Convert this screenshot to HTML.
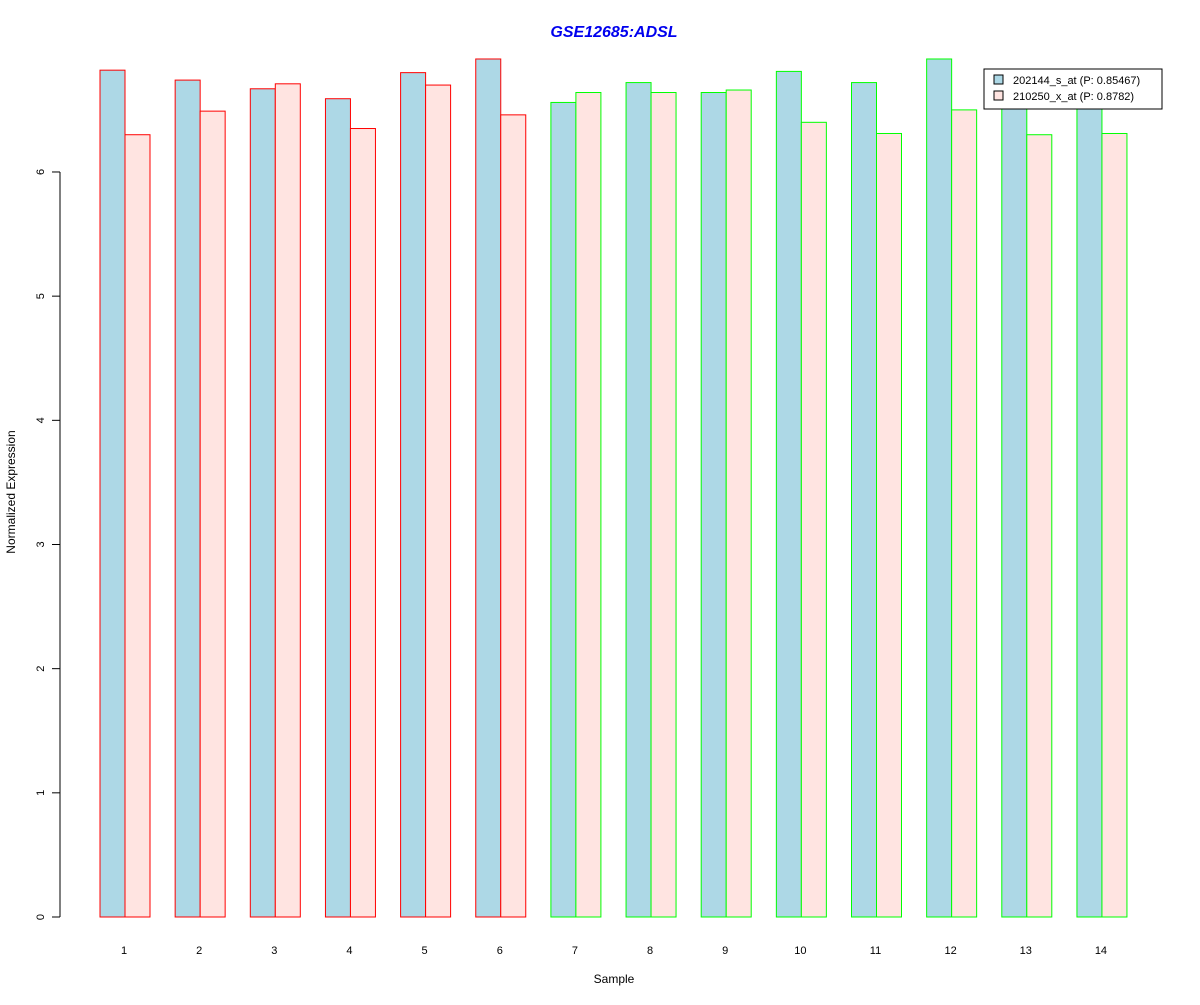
<!DOCTYPE html>
<html><head><meta charset="utf-8"><style>body{margin:0;background:#fff}svg{font-family:"Liberation Sans",Arial,sans-serif}</style></head>
<body>
<svg id="chart" width="1200" height="1000">
<text x="614" y="37" text-anchor="middle" font-size="16" font-weight="bold" font-style="italic" fill="#0000ee">GSE12685:ADSL</text>
<text x="614" y="983" text-anchor="middle" font-size="12">Sample</text>
<text transform="translate(15,492) rotate(-90)" text-anchor="middle" font-size="12">Normalized Expression</text>
<g id="bars"></g><g id="axis"></g>
<g>
<rect x="984" y="69" width="178" height="40" fill="#fff" stroke="#000"/>
<rect x="994" y="75" width="9" height="9" fill="#add8e6" stroke="#000"/>
<text x="1013" y="84" font-size="11">202144_s_at (P: 0.85467)</text>
<rect x="994" y="91" width="9" height="9" fill="#ffe4e1" stroke="#000"/>
<text x="1013" y="100" font-size="11">210250_x_at (P: 0.8782)</text>
</g>
</svg>
<script>
const categories=["1","2","3","4","5","6","7","8","9","10","11","12","13","14"];
const series1=[6.82,6.74,6.67,6.59,6.80,6.91,6.56,6.72,6.64,6.81,6.72,6.91,6.75,6.70];
const series2=[6.30,6.49,6.71,6.35,6.70,6.46,6.64,6.64,6.66,6.40,6.31,6.50,6.30,6.31];
const groupColor=["red","red","red","red","red","red","lime","lime","lime","lime","lime","lime","lime","lime"];
const yTicks=[0,1,2,3,4,5,6];
const NS="http://www.w3.org/2000/svg";
const y=v=>917-v*124.17;
const x=i=>100+i*75.15;
const bars=document.getElementById('bars'),axis=document.getElementById('axis');
function mk(t,a,p){const e=document.createElementNS(NS,t);for(const k in a)e.setAttribute(k,a[k]);p.appendChild(e);return e;}
categories.forEach((c,i)=>{
 const b1=mk('rect',{x:x(i),y:y(series1[i]),width:25,height:917-y(series1[i]),fill:'#add8e6',stroke:groupColor[i]},bars);
 
 
 const b2=mk('rect',{x:x(i)+25,y:y(series2[i]),width:25,height:917-y(series2[i]),fill:'#ffe4e1',stroke:groupColor[i]},bars);
 
 
 const t=mk('text',{x:x(i)+24,y:954,'text-anchor':'middle','font-size':11},axis);t.textContent=c;
 
 
});
const yl=mk('line',{x1:60,x2:60,y1:y(0),y2:y(6),stroke:'#000'},axis);


yTicks.forEach(v=>{
 mk('line',{x1:52,x2:60,y1:y(v),y2:y(v),stroke:'#000'},axis);
 const t=mk('text',{transform:`translate(44,${y(v)}) rotate(-90)`,'text-anchor':'middle','font-size':11},axis);t.textContent=v;
 
 
});
</script>
</body></html>
